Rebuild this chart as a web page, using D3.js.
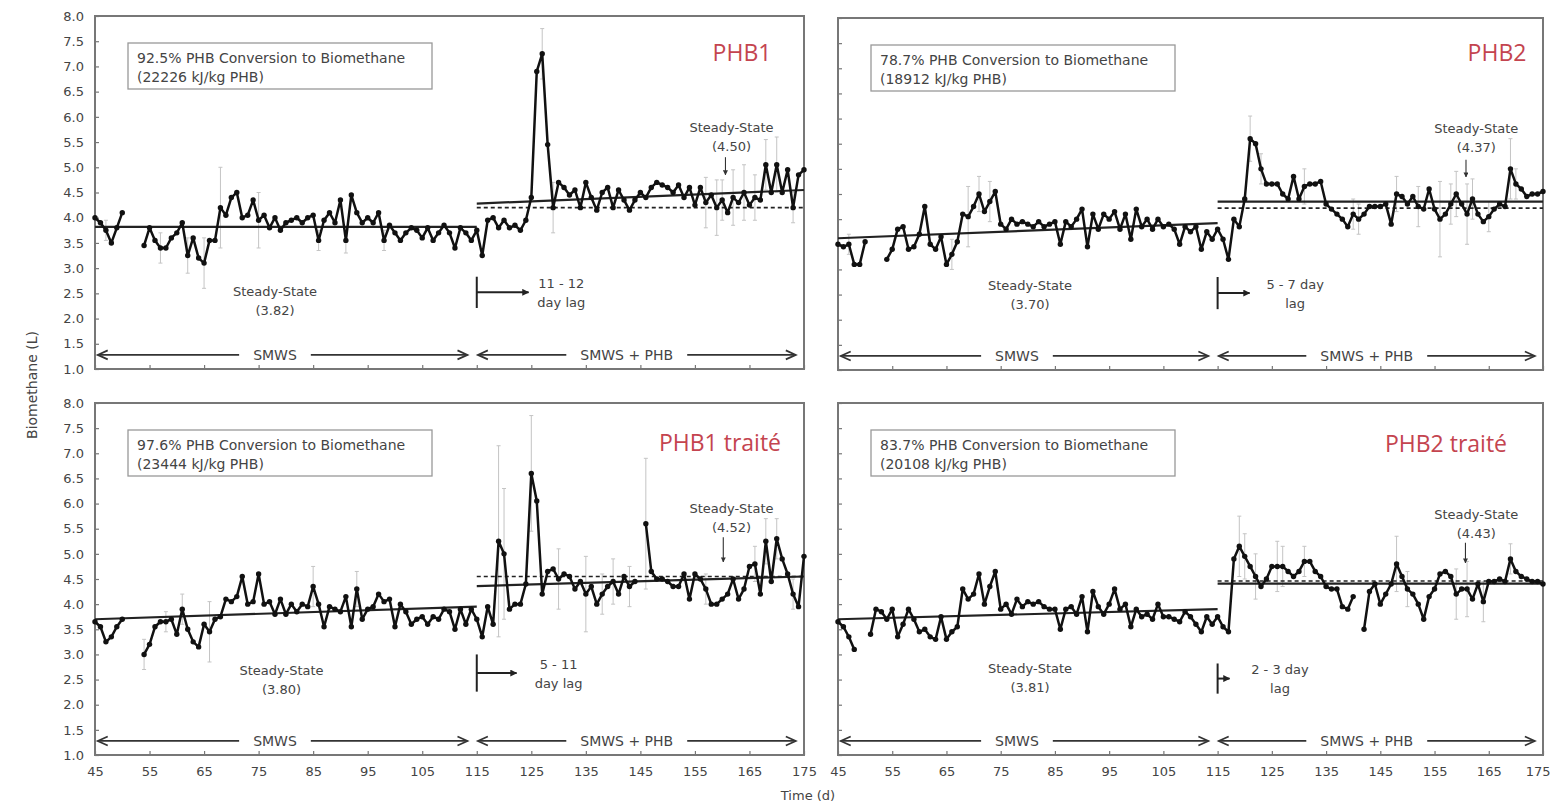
<!DOCTYPE html>
<html>
<head>
<meta charset="utf-8">
<script src="https://cdn.jsdelivr.net/npm/d3@7"></script>
<style>
  body { margin: 0; background: #fff; }
  svg { display: block; }
</style>
</head>
<body>
<svg id="chart" width="1551" height="803"></svg>
<script>
// Daily biomethane production (L), day 45 to day 175; null = no measurement
const dayStart = 45;

const phb1 = [
  4.0, 3.9, 3.75, 3.5, 3.8, 4.1, null, null, null, 3.45,
  3.8, 3.55, 3.4, 3.4, 3.6, 3.7, 3.9, 3.25, 3.6, 3.2,
  3.1, 3.55, 3.55, 4.2, 4.05, 4.4, 4.5, 4.0, 4.05, 4.35,
  3.95, 4.05, 3.8, 4.0, 3.75, 3.9, 3.95, 4.0, 3.9, 4.0,
  4.05, 3.55, 3.95, 4.1, 3.9, 4.35, 3.55, 4.45, 4.1, 3.9,
  4.0, 3.9, 4.1, 3.55, 3.85, 3.7, 3.55, 3.7, 3.8, 3.75,
  3.6, 3.8, 3.55, 3.7, 3.85, 3.7, 3.4, 3.8, 3.7, 3.55,
  3.75, 3.25, 3.95, 4.0, 3.8, 3.95, 3.8, 3.85, 3.75, 3.95,
  4.4, 6.9, 7.25, 5.45, 4.2, 4.7, 4.6, 4.45, 4.55, 4.2,
  4.7, 4.4, 4.15, 4.5, 4.6, 4.2, 4.55, 4.35, 4.15, 4.35,
  4.5, 4.4, 4.6, 4.7, 4.65, 4.6, 4.5, 4.65, 4.4, 4.6,
  4.25, 4.6, 4.3, 4.45, 4.2, 4.35, 4.1, 4.4, 4.3, 4.5,
  4.25, 4.4, 4.35, 5.05, 4.5, 5.05, 4.5, 4.95, 4.2, 4.85,
  4.95
];

const phb2 = [
  3.5, 3.45, 3.5, 3.1, 3.1, 3.55, null, null, null, 3.2,
  3.4, 3.8, 3.85, 3.4, 3.45, 3.7, 4.25, 3.5, 3.4, 3.65,
  3.1, 3.3, 3.55, 4.1, 4.05, 4.25, 4.5, 4.15, 4.35, 4.55,
  3.9, 3.8, 4.0, 3.9, 3.95, 3.9, 3.85, 3.95, 3.85, 3.9,
  3.95, 3.5, 3.95, 3.85, 4.0, 4.2, 3.45, 4.1, 3.8, 4.1,
  4.0, 4.15, 3.8, 4.1, 3.6, 4.2, 3.85, 4.0, 3.8, 4.0,
  3.85, 3.9, 3.8, 3.5, 3.85, 3.75, 3.85, 3.4, 3.75, 3.6,
  3.8, 3.6, 3.2, 4.0, 3.85, 4.4, 5.6, 5.5, 5.0, 4.7,
  4.7, 4.7, 4.5, 4.4, 4.85, 4.4, 4.65, 4.7, 4.7, 4.75,
  4.3, 4.2, 4.1, 4.0, 3.85, 4.1, 4.0, 4.1, 4.25, 4.25,
  4.25, 4.3, 3.9, 4.5, 4.45, 4.3, 4.45, 4.25, 4.2, 4.6,
  4.2, 4.0, 4.1, 4.3, 4.5, 4.3, 4.1, 4.4, 4.1, 3.95,
  4.05, 4.2, 4.3, 4.25, 5.0, 4.7, 4.6, 4.45, 4.5, 4.5,
  4.55
];

const phb1Treated = [
  3.65, 3.55, 3.25, 3.35, 3.55, 3.7, null, null, null, 3.0,
  3.2, 3.55, 3.65, 3.65, 3.7, 3.4, 3.9, 3.5, 3.25, 3.15,
  3.6, 3.45, 3.7, 3.75, 4.1, 4.05, 4.15, 4.55, 4.0, 4.05,
  4.6, 4.0, 4.05, 3.8, 4.1, 3.8, 4.0, 3.85, 4.0, 3.95,
  4.35, 4.0, 3.55, 3.95, 3.9, 3.85, 4.15, 3.55, 4.3, 3.7,
  3.9, 3.95, 4.2, 4.05, 4.1, 3.55, 4.0, 3.85, 3.6, 3.7,
  3.75, 3.6, 3.75, 3.7, 3.9, 3.85, 3.5, 3.9, 3.6, 3.9,
  3.7, 3.35, 3.95, 3.6, 5.25, 5.0, 3.9, 4.0, 4.0, 4.4,
  6.6, 6.05, 4.2, 4.65, 4.7, 4.5, 4.6, 4.55, 4.3, 4.45,
  4.2, 4.35, 4.0, 4.2, 4.35, 4.45, 4.2, 4.55, 4.35, 4.45,
  null, 5.6, 4.65, 4.5, 4.5, 4.45, 4.35, 4.35, 4.6, 4.1,
  4.6, 4.5, 4.3, 4.0, 4.0, 4.1, 4.2, 4.5, 4.1, 4.3,
  4.75, 4.8, 4.2, 5.25, 4.45, 5.3, 4.9, 4.6, 4.2, 3.95,
  4.95
];

const phb2Treated = [
  3.65, 3.55, 3.35, 3.1, null, null, 3.4, 3.9, 3.85, 3.7,
  3.9, 3.35, 3.6, 3.9, 3.7, 3.45, 3.5, 3.35, 3.3, 3.75,
  3.3, 3.45, 3.55, 4.3, 4.1, 4.2, 4.6, 4.0, 4.35, 4.65,
  3.9, 4.0, 3.8, 4.1, 3.95, 4.05, 4.0, 4.05, 3.95, 3.9,
  3.9, 3.5, 3.9, 3.95, 3.8, 4.15, 3.45, 4.25, 3.95, 3.8,
  4.0, 4.3, 3.9, 4.0, 3.55, 3.9, 3.75, 3.8, 3.7, 4.0,
  3.75, 3.75, 3.7, 3.65, 3.85, 3.75, 3.6, 3.45, 3.75, 3.6,
  3.75, 3.55, 3.45, 4.9, 5.15, 4.95, 4.75, 4.55, 4.35, 4.5,
  4.75, 4.75, 4.75, 4.65, 4.55, 4.65, 4.85, 4.85, 4.65, 4.55,
  4.35, 4.3, 4.3, 3.95, 3.9, 4.15, null, 3.5, 4.25, 4.4,
  4.0, 4.2, 4.4, 4.8, 4.55, 4.3, 4.2, 4.0, 3.7, 4.15,
  4.3, 4.6, 4.65, 4.55, 4.2, 4.3, 4.3, 4.1, 4.4, 4.05,
  4.45, 4.45, 4.5, 4.45, 4.9, 4.65, 4.55, 4.5, 4.45, 4.45,
  4.4
];

// Standard deviations [day, ±L] for the days where they are large enough to show
const phb1Err = [[47, 0.2], [57, 0.3], [62, 0.35], [65, 0.5], [68, 0.8], [75, 0.55], [86, 0.2],
  [91, 0.25], [98, 0.2], [127, 0.5], [129, 0.5], [157, 0.5], [159, 0.55], [160, 0.4],
  [162, 0.55], [164, 0.55], [166, 0.45], [168, 0.5], [170, 0.55], [173, 0.3]];
const phb2Err = [[47, 0.2], [66, 0.3], [69, 0.6], [71, 0.35], [73, 0.4], [121, 0.45], [123, 0.3],
  [131, 0.35], [140, 0.3], [141, 0.3], [148, 0.35], [152, 0.4], [156, 0.75], [158, 0.4],
  [159, 0.45], [161, 0.6], [162, 0.4], [165, 0.3], [169, 0.6], [170, 0.3]];
const phb1TreatedErr = [[54, 0.3], [58, 0.2], [61, 0.3], [66, 0.6], [85, 0.4], [93, 0.35],
  [119, 1.9], [120, 1.3], [125, 1.15], [130, 0.6], [135, 0.75], [138, 0.4], [140, 0.45],
  [143, 0.4], [146, 1.3], [157, 0.3], [166, 0.35], [168, 0.45], [170, 0.4], [173, 0.3]];
const phb2TreatedErr = [[119, 0.6], [120, 0.45], [122, 0.45], [126, 0.5], [127, 0.4], [131, 0.3],
  [148, 0.55], [150, 0.35], [159, 0.5], [161, 0.55], [164, 0.4], [169, 0.3]];

// Trend lines: SMWS phase, SMWS + PHB phase (solid) and its mean (dashed)
const phb1PreFit = [[45, 3.82], [115, 3.82]];
const phb1PostFit = [[115, 4.28], [175, 4.55]];
const phb1PostMean = [[115, 4.2], [175, 4.2]];
const phb2PreFit = [[45, 3.62], [115, 3.92]];
const phb2PostFit = [[115, 4.35], [175, 4.35]];
const phb2PostMean = [[115, 4.22], [175, 4.22]];
const phb1TreatedPreFit = [[45, 3.7], [115, 3.95]];
const phb1TreatedPostFit = [[115, 4.36], [175, 4.55]];
const phb1TreatedPostMean = [[115, 4.55], [175, 4.55]];
const phb2TreatedPreFit = [[45, 3.7], [115, 3.9]];
const phb2TreatedPostFit = [[115, 4.41], [175, 4.41]];
const phb2TreatedPostMean = [[115, 4.46], [175, 4.46]];

const panelTitles = ["PHB1", "PHB2", "PHB1 traité", "PHB2 traité"];
const conversionPct = ["92.5", "78.7", "97.6", "83.7"];
const energyYield = ["22226", "18912", "23444", "20108"];
const steadyBefore = [3.82, 3.70, 3.80, 3.81];
const steadyAfter = [4.50, 4.37, 4.52, 4.43];
const lagLabels = ["11 - 12", "5 - 7 day", "5 - 11", "2 - 3 day"];
const lagLabels2 = ["day lag", "lag", "day lag", "lag"];

const xTicks = [45, 55, 65, 75, 85, 95, 105, 115, 125, 135, 145, 155, 165, 175];
const yTicks = [1.0, 1.5, 2.0, 2.5, 3.0, 3.5, 4.0, 4.5, 5.0, 5.5, 6.0, 6.5, 7.0, 7.5, 8.0];

// ---------------------------------------------------------------------------
const FONT = "'DejaVu Sans', Arial, sans-serif";
const TEXT = "#444";
const RED = "#c4444f";
const WIDTH = 1551;

const svg = d3.select("#chart");

const defs = svg.append("defs");
defs.append("marker")
  .attr("id", "head").attr("viewBox", "0 0 10 10")
  .attr("refX", 9).attr("refY", 5)
  .attr("markerWidth", 7).attr("markerHeight", 7)
  .attr("markerUnits", "userSpaceOnUse")
  .attr("orient", "auto")
  .append("path").attr("d", "M0,0 L10,5 L0,10 Z").attr("fill", "#222");
defs.append("marker")
  .attr("id", "headSmall").attr("viewBox", "0 0 10 10")
  .attr("refX", 9).attr("refY", 5)
  .attr("markerWidth", 5).attr("markerHeight", 5)
  .attr("markerUnits", "userSpaceOnUse")
  .attr("orient", "auto")
  .append("path").attr("d", "M0,0 L10,5 L0,10 Z").attr("fill", "#333");

const panels = [
  { values: phb1, err: phb1Err, pre: phb1PreFit, post: phb1PostFit, mean: phb1PostMean,
    left: 95, right: 804, top: 16, bottom: 369, yLabels: true, xLabels: false,
    titleX: 742, titleY: 52, lagEnd: 124.5, lagY: 2.52, lagHalf: 0.31, lagTextX: 130.5,
    lowX: 78, lowY: 2.54, highX: 161.7, highY: 5.78, ssArrowX: 160.6, ssArrowFrom: 5.2, ssArrowTo: 4.85 },
  { values: phb2, err: phb2Err, pre: phb2PreFit, post: phb2PostFit, mean: phb2PostMean,
    left: 838, right: 1543, top: 18, bottom: 370, yLabels: false, xLabels: false,
    titleX: 1497, titleY: 52, lagEnd: 120.9, lagY: 2.53, lagHalf: 0.32, lagTextX: 129.3,
    lowX: 80.4, lowY: 2.69, highX: 162.7, highY: 5.81, ssArrowX: 160.8, ssArrowFrom: 5.18, ssArrowTo: 4.84 },
  { values: phb1Treated, err: phb1TreatedErr, pre: phb1TreatedPreFit, post: phb1TreatedPostFit, mean: phb1TreatedPostMean,
    left: 95, right: 804, top: 403, bottom: 755, yLabels: true, xLabels: true,
    titleX: 720, titleY: 442, lagEnd: 122.3, lagY: 2.63, lagHalf: 0.37, lagTextX: 130,
    lowX: 79.2, lowY: 2.69, highX: 161.7, highY: 5.91, ssArrowX: 160.2, ssArrowFrom: 5.33, ssArrowTo: 4.84 },
  { values: phb2Treated, err: phb2TreatedErr, pre: phb2TreatedPreFit, post: phb2TreatedPostFit, mean: phb2TreatedPostMean,
    left: 838, right: 1543, top: 403, bottom: 755, yLabels: false, xLabels: true,
    titleX: 1446, titleY: 443, lagEnd: 117.2, lagY: 2.52, lagHalf: 0.3, lagTextX: 126.5,
    lowX: 80.4, lowY: 2.73, highX: 162.7, highY: 5.79, ssArrowX: 160.7, ssArrowFrom: 5.22, ssArrowTo: 4.82 }
];

panels.forEach((p, i) => {
  const x = d3.scaleLinear().domain([45, 175]).range([p.left, p.right]);
  const y = d3.scaleLinear().domain([1, 8]).range([p.bottom, p.top]);
  const g = svg.append("g");

  // inward tick marks on the left and bottom edges
  const yIn = g.append("g").attr("transform", `translate(${p.left},0)`)
    .call(d3.axisRight(y).tickValues(yTicks).tickSize(4).tickFormat(""));
  const xIn = g.append("g").attr("transform", `translate(0,${p.bottom})`)
    .call(d3.axisTop(x).tickValues(xTicks).tickSize(4).tickFormat(""));
  [yIn, xIn].forEach(a => {
    a.select(".domain").remove();
    a.selectAll("line").attr("stroke", "#777").attr("stroke-width", 1.2);
  });

  if (p.yLabels) {
    const ya = g.append("g").attr("transform", `translate(${p.left},0)`)
      .call(d3.axisLeft(y).tickValues(yTicks).tickSize(0).tickPadding(11).tickFormat(d3.format(".1f")));
    ya.select(".domain").remove();
    ya.selectAll("text").attr("font-family", FONT).attr("font-size", 13).attr("fill", TEXT);
  }
  if (p.xLabels) {
    const xa = g.append("g").attr("transform", `translate(0,${p.bottom})`)
      .call(d3.axisBottom(x).tickValues(xTicks).tickSize(0).tickPadding(12).tickFormat(d3.format("d")));
    xa.select(".domain").remove();
    xa.selectAll("text").attr("font-family", FONT).attr("font-size", 13).attr("fill", TEXT);
    // keep the last label inside the page edge
    xa.selectAll(".tick").each(function (d) {
      const t = d3.select(this).select("text");
      const w = t.node().getComputedTextLength();
      if (x(d) + w / 2 > WIDTH - 1) t.attr("text-anchor", "end").attr("x", WIDTH - 1 - x(d));
    });
  }

  // frame
  g.append("rect")
    .attr("x", p.left).attr("y", p.top)
    .attr("width", p.right - p.left).attr("height", p.bottom - p.top)
    .attr("fill", "none").attr("stroke", "#777").attr("stroke-width", 2);

  // conversion box
  const bx = p.left + 33, by = p.top + 27;
  g.append("rect").attr("x", bx).attr("y", by).attr("width", 304).attr("height", 46)
    .attr("fill", "#fff").attr("stroke", "#999").attr("stroke-width", 1.3);
  g.append("text").attr("x", bx + 9).attr("y", by + 15).attr("dominant-baseline", "central")
    .attr("font-family", FONT).attr("font-size", 14).attr("fill", TEXT)
    .text(`${conversionPct[i]}% PHB Conversion to Biomethane`);
  g.append("text").attr("x", bx + 9).attr("y", by + 34).attr("dominant-baseline", "central")
    .attr("font-family", FONT).attr("font-size", 14).attr("fill", TEXT)
    .text(`(${energyYield[i]} kJ/kg PHB)`);

  // panel title
  g.append("text").attr("x", p.titleX).attr("y", p.titleY)
    .attr("text-anchor", "middle").attr("dominant-baseline", "central")
    .attr("font-family", "'Open Sans', sans-serif").attr("font-size", 23).attr("fill", RED)
    .text(panelTitles[i]);

  // error bars
  const eb = g.append("g").attr("stroke", "#c4c4c4").attr("stroke-width", 1);
  p.err.forEach(([day, sd]) => {
    const v = p.values[day - dayStart];
    if (v == null) return;
    const cx = x(day);
    eb.append("line").attr("x1", cx).attr("x2", cx).attr("y1", y(v - sd)).attr("y2", y(v + sd));
    eb.append("line").attr("x1", cx - 2).attr("x2", cx + 2).attr("y1", y(v - sd)).attr("y2", y(v - sd));
    eb.append("line").attr("x1", cx - 2).attr("x2", cx + 2).attr("y1", y(v + sd)).attr("y2", y(v + sd));
  });

  // trend lines
  const seg = d3.line().x(d => x(d[0])).y(d => y(d[1]));
  g.append("path").attr("d", seg(p.pre)).attr("fill", "none").attr("stroke", "#222").attr("stroke-width", 2.2);
  g.append("path").attr("d", seg(p.post)).attr("fill", "none").attr("stroke", "#222").attr("stroke-width", 2.2);
  g.append("path").attr("d", seg(p.mean)).attr("fill", "none").attr("stroke", "#222")
    .attr("stroke-width", 1.7).attr("stroke-dasharray", "4,3");

  // daily series
  const pts = p.values.map((v, k) => [dayStart + k, v]);
  const line = d3.line().defined(d => d[1] != null).x(d => x(d[0])).y(d => y(d[1]));
  g.append("path").attr("d", line(pts)).attr("fill", "none")
    .attr("stroke", "#111").attr("stroke-width", 2.5).attr("stroke-linejoin", "round");
  g.append("g").selectAll("circle").data(pts.filter(d => d[1] != null)).join("circle")
    .attr("cx", d => x(d[0])).attr("cy", d => y(d[1])).attr("r", 2.7).attr("fill", "#111");

  // steady-state labels
  const ssText = (cx, cy, val) => {
    g.append("text").attr("x", cx).attr("y", cy).attr("text-anchor", "middle").attr("dominant-baseline", "central")
      .attr("font-family", FONT).attr("font-size", 13).attr("fill", TEXT).text("Steady-State");
    g.append("text").attr("x", cx).attr("y", cy + 19).attr("text-anchor", "middle").attr("dominant-baseline", "central")
      .attr("font-family", FONT).attr("font-size", 13).attr("fill", TEXT).text(`(${val.toFixed(2)})`);
  };
  ssText(x(p.lowX), y(p.lowY), steadyBefore[i]);
  ssText(x(p.highX), y(p.highY), steadyAfter[i]);
  g.append("line").attr("x1", x(p.ssArrowX)).attr("x2", x(p.ssArrowX))
    .attr("y1", y(p.ssArrowFrom)).attr("y2", y(p.ssArrowTo))
    .attr("stroke", "#333").attr("stroke-width", 1.1).attr("marker-end", "url(#headSmall)");

  // lag annotation
  const ly = y(p.lagY);
  g.append("line").attr("x1", x(115)).attr("x2", x(115))
    .attr("y1", y(p.lagY + p.lagHalf)).attr("y2", y(p.lagY - p.lagHalf))
    .attr("stroke", "#222").attr("stroke-width", 2);
  g.append("line").attr("x1", x(115)).attr("x2", x(p.lagEnd)).attr("y1", ly).attr("y2", ly)
    .attr("stroke", "#222").attr("stroke-width", 2).attr("marker-end", "url(#head)");
  g.append("text").attr("x", x(p.lagTextX)).attr("y", ly - 9).attr("text-anchor", "middle")
    .attr("dominant-baseline", "central").attr("font-family", FONT).attr("font-size", 13).attr("fill", TEXT)
    .text(lagLabels[i]);
  g.append("text").attr("x", x(p.lagTextX)).attr("y", ly + 10).attr("text-anchor", "middle")
    .attr("dominant-baseline", "central").attr("font-family", FONT).attr("font-size", 13).attr("fill", TEXT)
    .text(lagLabels2[i]);

  // phase arrows
  const phase = (d0, d1, labelDay, label) => {
    const py = y(1.28);
    const t = g.append("text").attr("x", x(labelDay)).attr("y", py).attr("text-anchor", "middle")
      .attr("dominant-baseline", "central").attr("font-family", FONT).attr("font-size", 14)
      .attr("fill", TEXT).text(label);
    const w = t.node().getComputedTextLength();
    const xa = x(d0), xb = x(d1), xm = x(labelDay);
    const ph = g.append("g").attr("stroke", "#333").attr("stroke-width", 1.7).attr("fill", "none");
    ph.append("line").attr("x1", xa).attr("x2", xm - w / 2 - 14).attr("y1", py).attr("y2", py);
    ph.append("line").attr("x1", xm + w / 2 + 14).attr("x2", xb).attr("y1", py).attr("y2", py);
    ph.append("path").attr("d", `M${xa + 10},${py - 4.5} L${xa},${py} L${xa + 10},${py + 4.5}`);
    ph.append("path").attr("d", `M${xb - 10},${py - 4.5} L${xb},${py} L${xb - 10},${py + 4.5}`);
  };
  phase(45.5, 113.3, 78, "SMWS");
  phase(115.2, 173.5, 142.5, "SMWS + PHB");
});

// axis titles
svg.append("text")
  .attr("transform", "translate(32,385) rotate(-90)")
  .attr("text-anchor", "middle").attr("dominant-baseline", "central")
  .attr("font-family", FONT).attr("font-size", 14).attr("fill", TEXT)
  .text("Biomethane (L)");
svg.append("text")
  .attr("x", 808).attr("y", 795)
  .attr("text-anchor", "middle").attr("dominant-baseline", "central")
  .attr("font-family", FONT).attr("font-size", 13).attr("fill", TEXT)
  .text("Time (d)");
</script>
</body>
</html>
